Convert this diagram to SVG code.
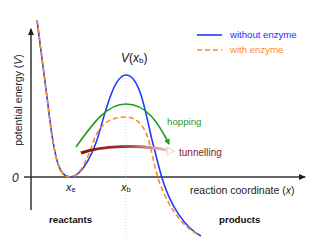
<svg xmlns="http://www.w3.org/2000/svg" width="319" height="242" viewBox="0 0 319 242">
<style>
text{font-family:"Liberation Sans",Arial,sans-serif}
.axis{stroke:#333;stroke-width:1.5;fill:none}
.blue{stroke:#1f3cff;stroke-width:1.6;fill:none}
.orange{stroke:#ff8a1e;stroke-width:1.6;fill:none;stroke-dasharray:5 3}
.green{stroke:#1f9a1f;stroke-width:1.6;fill:none}
.lbl{font-size:10px;fill:#222}
.bold{font-size:9.7px;font-weight:bold;fill:#111}
.it{font-style:italic}
</style>
<defs>
<marker id="ah" markerWidth="8" markerHeight="8" refX="6" refY="3" orient="auto" markerUnits="userSpaceOnUse">
<path d="M0,0 L7,3 L0,6 Z" fill="#222"/>
</marker>
<marker id="gh" markerWidth="8" markerHeight="8" refX="5" refY="3" orient="auto" markerUnits="userSpaceOnUse">
<path d="M0,0 L6,3 L0,6 Z" fill="#1f9a1f"/>
</marker>
<linearGradient id="tg" gradientUnits="userSpaceOnUse" x1="81" y1="0" x2="172" y2="0">
<stop offset="0" stop-color="#8a1010"/>
<stop offset="0.45" stop-color="#a33030"/>
<stop offset="1" stop-color="#f6d6d6"/>
</linearGradient>
</defs>

<g id="axes">
<line class="axis" x1="31" y1="210" x2="31" y2="29" marker-end="url(#ah)"/>
<line class="axis" x1="24" y1="177" x2="305" y2="177" marker-end="url(#ah)"/>
<line x1="126" y1="75" x2="126" y2="242" stroke="#b8d4ea" stroke-width="0.8" stroke-dasharray="1 2"/>
</g>

<g id="connectors">
<path id="curve-without" class="blue" d="M37,20 L48,105 C55,165 60,177 70,177 C80,177 90,160 97,140 C104,118 113,75 126,75 C140,75 146,115 152,140 C156,155 159,168 162,178 C170,205 185,228 201,236"/>
<path id="curve-with" class="orange" d="M37,20 L48,105 C55,165 60,177 70,177 C80,177 87,160 94,140 C100,124 110,117 126,117 C138,117 146,128 150,145 C153,158 155,168 158,178 C167,206 182,226 197,234"/>
<path id="hopping-arrow" class="green" d="M76,147 C92,125 106,104 126,104 C146,104 158,122 169,144" marker-end="url(#gh)"/>
<path id="tunnelling-arrow" d="M81,153 C100,146 140,144 167,150" stroke="url(#tg)" stroke-width="3" fill="none"/>
<path d="M167,147 L174,151 L167,155 Z" fill="#fff" stroke="#f2c8c8" stroke-width="1"/>
</g>

<g id="legend">
<line x1="197" y1="35" x2="222" y2="35" class="blue"/>
<text x="230" y="38" font-size="9.6" fill="#2a2aff">without enzyme</text>
<line x1="197" y1="50" x2="222" y2="50" class="orange"/>
<text x="230" y="53" font-size="9.6" fill="#ff8a2e">with enzyme</text>
</g>

<g id="labels">
<text class="lbl" transform="translate(22,100) rotate(-90)" text-anchor="middle" style="font-size:10.5px">potential energy (<tspan class="it">V</tspan>)</text>
<text x="121" y="62" font-size="12" fill="#111"><tspan class="it">V</tspan>(<tspan class="it">x</tspan><tspan font-size="8" dy="1">b</tspan><tspan dy="-1">)</tspan></text>
<text x="12" y="182" font-size="12" class="it" fill="#222">0</text>
<text x="66" y="191" font-size="11" fill="#222"><tspan class="it">x</tspan><tspan font-size="7.5" dy="1">e</tspan></text>
<text x="121" y="191" font-size="11" fill="#222"><tspan class="it">x</tspan><tspan font-size="7.5" dy="1">b</tspan></text>
<text x="190" y="194" style="font-size:10.5px" fill="#222">reaction coordinate (<tspan class="it">x</tspan>)</text>
<text x="167" y="125" font-size="9.7" fill="#1f9a1f">hopping</text>
<text x="179" y="156" font-size="10" fill="#8a1a1a">tunnelling</text>
<text x="49" y="223" class="bold">reactants</text>
<text x="219" y="223" class="bold">products</text>
</g>
</svg>
